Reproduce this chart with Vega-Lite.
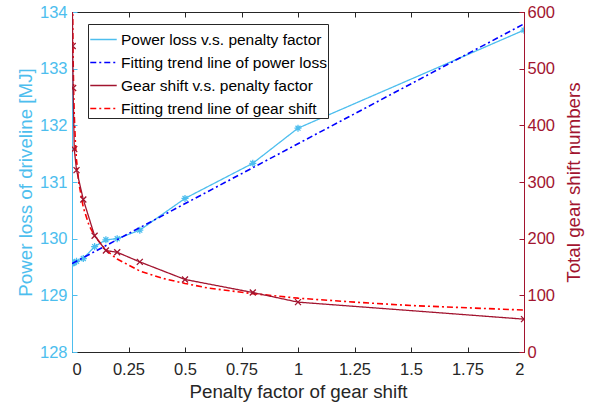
{
  "$schema": "https://vega.github.io/schema/vega-lite/v6.json",
  "width": 452,
  "height": 340,
  "autosize": {"type": "none"},
  "padding": {"left": 72, "top": 12, "right": 66, "bottom": 53},
  "background": "white",
  "config": {
    "view": {"stroke": "#262626", "strokeWidth": 1},
    "font": "Liberation Sans",
    "axis": {"grid": false, "labelFont": "Liberation Sans", "titleFont": "Liberation Sans", "labelFontSize": 16.5, "titleFontSize": 18.8, "titleFontWeight": "normal", "tickSize": -5, "domainWidth": 1, "tickWidth": 1},
    "legend": {"symbolType": "stroke", "symbolStrokeWidth": 1.6, "symbolSize": 700, "labelFont": "Liberation Sans", "labelFontSize": 15.5, "labelColor": "#000000", "strokeColor": "#262626", "fillColor": "white", "padding": 1, "rowPadding": -10.5, "labelOffset": 3, "labelLimit": 400, "cornerRadius": 0}
  },
  "datasets": {
    "power": [
      {"x": 0.001, "loss": 129.56, "series": "Power loss v.s. penalty factor"},
      {"x": 0.005, "loss": 129.57, "series": "Power loss v.s. penalty factor"},
      {"x": 0.01, "loss": 129.58, "series": "Power loss v.s. penalty factor"},
      {"x": 0.02, "loss": 129.6, "series": "Power loss v.s. penalty factor"},
      {"x": 0.05, "loss": 129.65, "series": "Power loss v.s. penalty factor"},
      {"x": 0.1, "loss": 129.86, "series": "Power loss v.s. penalty factor"},
      {"x": 0.15, "loss": 129.98, "series": "Power loss v.s. penalty factor"},
      {"x": 0.2, "loss": 130.0, "series": "Power loss v.s. penalty factor"},
      {"x": 0.3, "loss": 130.15, "series": "Power loss v.s. penalty factor"},
      {"x": 0.5, "loss": 130.71, "series": "Power loss v.s. penalty factor"},
      {"x": 0.8, "loss": 131.33, "series": "Power loss v.s. penalty factor"},
      {"x": 1, "loss": 131.95, "series": "Power loss v.s. penalty factor"},
      {"x": 2, "loss": 133.68, "series": "Power loss v.s. penalty factor"}
    ],
    "powerfit": [
      {"x": 0, "loss": 129.56, "series": "Fitting trend line of power loss"},
      {"x": 2, "loss": 133.79, "series": "Fitting trend line of power loss"}
    ],
    "gear": [
      {"x": 0.001, "shifts": 650, "series": "Gear shift v.s. penalty factor"},
      {"x": 0.003, "shifts": 540, "series": "Gear shift v.s. penalty factor"},
      {"x": 0.005, "shifts": 466, "series": "Gear shift v.s. penalty factor"},
      {"x": 0.01, "shifts": 358, "series": "Gear shift v.s. penalty factor"},
      {"x": 0.02, "shifts": 321, "series": "Gear shift v.s. penalty factor"},
      {"x": 0.05, "shifts": 269, "series": "Gear shift v.s. penalty factor"},
      {"x": 0.1, "shifts": 205, "series": "Gear shift v.s. penalty factor"},
      {"x": 0.15, "shifts": 179, "series": "Gear shift v.s. penalty factor"},
      {"x": 0.2, "shifts": 176, "series": "Gear shift v.s. penalty factor"},
      {"x": 0.3, "shifts": 159, "series": "Gear shift v.s. penalty factor"},
      {"x": 0.5, "shifts": 128, "series": "Gear shift v.s. penalty factor"},
      {"x": 0.8, "shifts": 105, "series": "Gear shift v.s. penalty factor"},
      {"x": 1, "shifts": 88, "series": "Gear shift v.s. penalty factor"},
      {"x": 2, "shifts": 58, "series": "Gear shift v.s. penalty factor"}
    ],
    "gearfit": [
      {"x": 0.0025, "shifts": 637, "series": "Fitting trend line of gear shift"},
      {"x": 0.003, "shifts": 603, "series": "Fitting trend line of gear shift"},
      {"x": 0.004, "shifts": 554, "series": "Fitting trend line of gear shift"},
      {"x": 0.005, "shifts": 517, "series": "Fitting trend line of gear shift"},
      {"x": 0.0075, "shifts": 457, "series": "Fitting trend line of gear shift"},
      {"x": 0.01, "shifts": 419, "series": "Fitting trend line of gear shift"},
      {"x": 0.015, "shifts": 370, "series": "Fitting trend line of gear shift"},
      {"x": 0.02, "shifts": 339, "series": "Fitting trend line of gear shift"},
      {"x": 0.03, "shifts": 299, "series": "Fitting trend line of gear shift"},
      {"x": 0.05, "shifts": 255, "series": "Fitting trend line of gear shift"},
      {"x": 0.075, "shifts": 224, "series": "Fitting trend line of gear shift"},
      {"x": 0.1, "shifts": 205, "series": "Fitting trend line of gear shift"},
      {"x": 0.15, "shifts": 180, "series": "Fitting trend line of gear shift"},
      {"x": 0.2, "shifts": 164, "series": "Fitting trend line of gear shift"},
      {"x": 0.3, "shifts": 143, "series": "Fitting trend line of gear shift"},
      {"x": 0.4, "shifts": 130, "series": "Fitting trend line of gear shift"},
      {"x": 0.5, "shifts": 121, "series": "Fitting trend line of gear shift"},
      {"x": 0.6, "shifts": 113, "series": "Fitting trend line of gear shift"},
      {"x": 0.8, "shifts": 103, "series": "Fitting trend line of gear shift"},
      {"x": 1, "shifts": 95, "series": "Fitting trend line of gear shift"},
      {"x": 1.25, "shifts": 88, "series": "Fitting trend line of gear shift"},
      {"x": 1.5, "shifts": 82, "series": "Fitting trend line of gear shift"},
      {"x": 1.75, "shifts": 78, "series": "Fitting trend line of gear shift"},
      {"x": 2, "shifts": 74, "series": "Fitting trend line of gear shift"}
    ]
  },
  "layer": [
    {
      "layer": [
        {
          "data": {"name": "power"},
          "mark": {"type": "line", "strokeWidth": 1.3, "clip": true},
          "encoding": {
            "x": {"field": "x", "type": "quantitative", "scale": {"domain": [0, 2], "nice": false}, "axis": {"orient": "bottom", "values": [0, 0.25, 0.5, 0.75, 1, 1.25, 1.5, 1.75, 2], "format": ".2~f", "title": "Penalty factor of gear shift", "labelColor": "#262626", "titleColor": "#262626", "domainColor": "#262626", "tickColor": "#262626", "labelPadding": 14, "titleY": 45, "titleBaseline": "alphabetic"}},
            "y": {"field": "loss", "type": "quantitative", "scale": {"domain": [128, 134], "nice": false, "zero": false}, "axis": {"orient": "left", "values": [128, 129, 130, 131, 132, 133, 134], "title": "Power loss of driveline [MJ]", "labelColor": "#4DBEEE", "titleColor": "#4DBEEE", "domainColor": "#4DBEEE", "tickColor": "#4DBEEE", "labelPadding": 10, "titleAngle": -90, "titleBaseline": "middle", "titleX": -47, "titleY": 170}},
            "color": {"field": "series", "type": "nominal", "scale": {"domain": ["Power loss v.s. penalty factor", "Fitting trend line of power loss", "Gear shift v.s. penalty factor", "Fitting trend line of gear shift"], "range": ["#4DBEEE", "#0000FF", "#A2142F", "#FF0000"]}, "legend": {"title": null, "orient": "none", "legendX": 16, "legendY": 12}},
            "strokeDash": {"field": "series", "type": "nominal", "scale": {"domain": ["Power loss v.s. penalty factor", "Fitting trend line of power loss", "Gear shift v.s. penalty factor", "Fitting trend line of gear shift"], "range": [[1, 0], [6, 3, 2, 3], [1, 0], [6, 3, 2, 3]]}, "legend": {"title": null, "orient": "none", "legendX": 16, "legendY": 12}}
          }
        },
        {
          "data": {"name": "power"},
          "mark": {"type": "point", "shape": "M-1,0L1,0M0,-1L0,1M-0.7,-0.7L0.7,0.7M-0.7,0.7L0.7,-0.7", "filled": false, "color": "#4DBEEE", "size": 50, "strokeWidth": 1.3, "opacity": 1, "clip": true},
          "encoding": {
            "x": {"field": "x", "type": "quantitative", "scale": {"domain": [0, 2], "nice": false}, "axis": {"orient": "bottom", "values": [0, 0.25, 0.5, 0.75, 1, 1.25, 1.5, 1.75, 2], "format": ".2~f", "title": "Penalty factor of gear shift", "labelColor": "#262626", "titleColor": "#262626", "domainColor": "#262626", "tickColor": "#262626", "labelPadding": 14, "titleY": 45, "titleBaseline": "alphabetic"}},
            "y": {"field": "loss", "type": "quantitative", "scale": {"domain": [128, 134], "nice": false, "zero": false}, "axis": {"orient": "left", "values": [128, 129, 130, 131, 132, 133, 134], "title": "Power loss of driveline [MJ]", "labelColor": "#4DBEEE", "titleColor": "#4DBEEE", "domainColor": "#4DBEEE", "tickColor": "#4DBEEE", "labelPadding": 10, "titleAngle": -90, "titleBaseline": "middle", "titleX": -47, "titleY": 170}}
          }
        },
        {
          "data": {"name": "powerfit"},
          "mark": {"type": "line", "strokeWidth": 1.6, "clip": true},
          "encoding": {
            "x": {"field": "x", "type": "quantitative", "scale": {"domain": [0, 2], "nice": false}, "axis": {"orient": "bottom", "values": [0, 0.25, 0.5, 0.75, 1, 1.25, 1.5, 1.75, 2], "format": ".2~f", "title": "Penalty factor of gear shift", "labelColor": "#262626", "titleColor": "#262626", "domainColor": "#262626", "tickColor": "#262626", "labelPadding": 14, "titleY": 45, "titleBaseline": "alphabetic"}},
            "y": {"field": "loss", "type": "quantitative", "scale": {"domain": [128, 134], "nice": false, "zero": false}, "axis": {"orient": "left", "values": [128, 129, 130, 131, 132, 133, 134], "title": "Power loss of driveline [MJ]", "labelColor": "#4DBEEE", "titleColor": "#4DBEEE", "domainColor": "#4DBEEE", "tickColor": "#4DBEEE", "labelPadding": 10, "titleAngle": -90, "titleBaseline": "middle", "titleX": -47, "titleY": 170}},
            "color": {"field": "series", "type": "nominal", "scale": {"domain": ["Power loss v.s. penalty factor", "Fitting trend line of power loss", "Gear shift v.s. penalty factor", "Fitting trend line of gear shift"], "range": ["#4DBEEE", "#0000FF", "#A2142F", "#FF0000"]}, "legend": {"title": null, "orient": "none", "legendX": 16, "legendY": 12}},
            "strokeDash": {"field": "series", "type": "nominal", "scale": {"domain": ["Power loss v.s. penalty factor", "Fitting trend line of power loss", "Gear shift v.s. penalty factor", "Fitting trend line of gear shift"], "range": [[1, 0], [6, 3, 2, 3], [1, 0], [6, 3, 2, 3]]}, "legend": {"title": null, "orient": "none", "legendX": 16, "legendY": 12}}
          }
        }
      ]
    },
    {
      "layer": [
        {
          "data": {"name": "gearfit"},
          "mark": {"type": "line", "strokeWidth": 1.6, "clip": true},
          "encoding": {
            "x": {"field": "x", "type": "quantitative", "scale": {"domain": [0, 2], "nice": false}, "axis": {"orient": "top", "values": [0, 0.25, 0.5, 0.75, 1, 1.25, 1.5, 1.75, 2], "labels": false, "title": null, "domainColor": "#262626", "tickColor": "#262626"}},
            "y": {"field": "shifts", "type": "quantitative", "scale": {"domain": [0, 600], "nice": false}, "axis": {"orient": "right", "values": [0, 100, 200, 300, 400, 500, 600], "title": "Total gear shift numbers", "labelColor": "#A2142F", "titleColor": "#A2142F", "domainColor": "#A2142F", "tickColor": "#A2142F", "labelPadding": 8, "titleAngle": -90, "titleBaseline": "middle", "titleX": 49, "titleY": 170}},
            "color": {"field": "series", "type": "nominal", "scale": {"domain": ["Power loss v.s. penalty factor", "Fitting trend line of power loss", "Gear shift v.s. penalty factor", "Fitting trend line of gear shift"], "range": ["#4DBEEE", "#0000FF", "#A2142F", "#FF0000"]}, "legend": {"title": null, "orient": "none", "legendX": 16, "legendY": 12}},
            "strokeDash": {"field": "series", "type": "nominal", "scale": {"domain": ["Power loss v.s. penalty factor", "Fitting trend line of power loss", "Gear shift v.s. penalty factor", "Fitting trend line of gear shift"], "range": [[1, 0], [6, 3, 2, 3], [1, 0], [6, 3, 2, 3]]}, "legend": {"title": null, "orient": "none", "legendX": 16, "legendY": 12}}
          }
        },
        {
          "data": {"name": "gear"},
          "mark": {"type": "line", "strokeWidth": 1.3, "clip": true},
          "encoding": {
            "x": {"field": "x", "type": "quantitative", "scale": {"domain": [0, 2], "nice": false}, "axis": {"orient": "top", "values": [0, 0.25, 0.5, 0.75, 1, 1.25, 1.5, 1.75, 2], "labels": false, "title": null, "domainColor": "#262626", "tickColor": "#262626"}},
            "y": {"field": "shifts", "type": "quantitative", "scale": {"domain": [0, 600], "nice": false}, "axis": {"orient": "right", "values": [0, 100, 200, 300, 400, 500, 600], "title": "Total gear shift numbers", "labelColor": "#A2142F", "titleColor": "#A2142F", "domainColor": "#A2142F", "tickColor": "#A2142F", "labelPadding": 8, "titleAngle": -90, "titleBaseline": "middle", "titleX": 49, "titleY": 170}},
            "color": {"field": "series", "type": "nominal", "scale": {"domain": ["Power loss v.s. penalty factor", "Fitting trend line of power loss", "Gear shift v.s. penalty factor", "Fitting trend line of gear shift"], "range": ["#4DBEEE", "#0000FF", "#A2142F", "#FF0000"]}, "legend": {"title": null, "orient": "none", "legendX": 16, "legendY": 12}},
            "strokeDash": {"field": "series", "type": "nominal", "scale": {"domain": ["Power loss v.s. penalty factor", "Fitting trend line of power loss", "Gear shift v.s. penalty factor", "Fitting trend line of gear shift"], "range": [[1, 0], [6, 3, 2, 3], [1, 0], [6, 3, 2, 3]]}, "legend": {"title": null, "orient": "none", "legendX": 16, "legendY": 12}}
          }
        },
        {
          "data": {"name": "gear"},
          "mark": {"type": "point", "shape": "M-1,-1L1,1M-1,1L1,-1", "filled": false, "color": "#A2142F", "size": 36, "strokeWidth": 1.3, "opacity": 1, "clip": true},
          "encoding": {
            "x": {"field": "x", "type": "quantitative", "scale": {"domain": [0, 2], "nice": false}, "axis": {"orient": "top", "values": [0, 0.25, 0.5, 0.75, 1, 1.25, 1.5, 1.75, 2], "labels": false, "title": null, "domainColor": "#262626", "tickColor": "#262626"}},
            "y": {"field": "shifts", "type": "quantitative", "scale": {"domain": [0, 600], "nice": false}, "axis": {"orient": "right", "values": [0, 100, 200, 300, 400, 500, 600], "title": "Total gear shift numbers", "labelColor": "#A2142F", "titleColor": "#A2142F", "domainColor": "#A2142F", "tickColor": "#A2142F", "labelPadding": 8, "titleAngle": -90, "titleBaseline": "middle", "titleX": 49, "titleY": 170}}
          }
        }
      ]
    }
  ],
  "resolve": {"scale": {"y": "independent"}, "axis": {"x": "independent"}}
}
